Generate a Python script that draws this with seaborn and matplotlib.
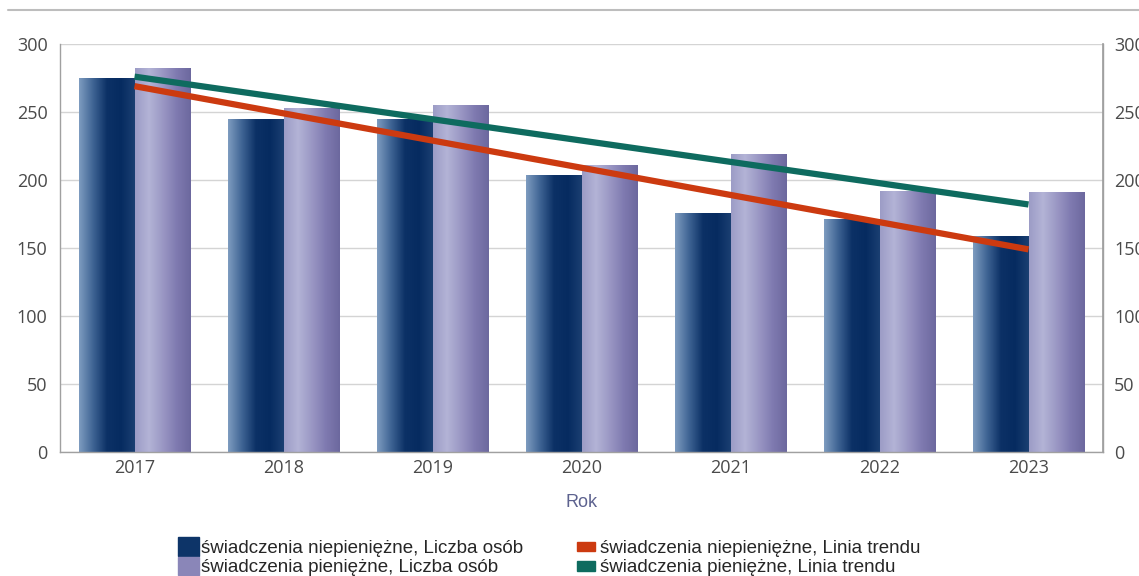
import matplotlib
matplotlib.use("Agg")
import matplotlib.pyplot as plt
import matplotlib.patches as mpatches
from matplotlib.colors import LinearSegmentedColormap
from matplotlib.legend_handler import HandlerPatch
import numpy as np
import pandas as pd
import seaborn as sns

years = ["2017", "2018", "2019", "2020", "2021", "2022", "2023"]
niepieniezne = [275, 245, 245, 204, 176, 171, 159]
pieniezne = [282, 253, 255, 211, 219, 192, 191]
trend_niepieniezne = [269, 149]   # 2017 -> 2023
trend_pieniezne = [276, 182]

lab_bar1 = "świadczenia niepieniężne, Liczba osób"
lab_bar2 = "świadczenia pieniężne, Liczba osób"
lab_tr1 = "świadczenia niepieniężne, Linia trendu"
lab_tr2 = "świadczenia pieniężne, Linia trendu"

df = pd.DataFrame({
    "Rok": years * 2,
    "Liczba": niepieniezne + pieniezne,
    "Seria": [lab_bar1] * len(years) + [lab_bar2] * len(years),
})

sns.set_theme(style="white")
plt.rcParams["font.family"] = ["Open Sans", "DejaVu Sans"]

DARK = "#0d3468"
LIGHT = "#8a86b8"
RED = "#cc3a10"
GREEN = "#0e6b5f"
GRID = "#d4d4d4"
SPINE = "#a0a0a0"
TICK = "#4a4a4a"

# cylinder-like shading, left -> right
cm_dark = LinearSegmentedColormap.from_list(
    "dark", ["#7e9cc0", "#3f6494", "#0c3166", "#062b60", "#1b3f72"])
cm_light = LinearSegmentedColormap.from_list(
    "light", ["#9c9cc6", "#b3b3d6", "#9a97c4", "#7f7ab0", "#6c689e"])

fig = plt.figure(figsize=(11.39, 5.76), dpi=100)
ax = fig.add_axes([0.0527, 0.2153, 0.9157, 0.7083])

sns.barplot(data=df, x="Rok", y="Liczba", hue="Seria",
            palette=[DARK, LIGHT], width=0.75, saturation=1,
            legend=False, ax=ax, zorder=2)

grad = np.linspace(0, 1, 256).reshape(1, -1)
n = len(years)
for i, p in enumerate(ax.patches[:2 * n]):
    cmap = cm_dark if i < n else cm_light
    x0, w, h = p.get_x(), p.get_width(), p.get_height()
    im = ax.imshow(grad, cmap=cmap, aspect="auto",
                   extent=[x0, x0 + w, 0, h], zorder=2.5)
    im.set_clip_path(p)
    p.set_edgecolor("none")

xs = [0, len(years) - 1]
ax.plot(xs, trend_niepieniezne, color=RED, lw=4.5, solid_capstyle="butt", zorder=4)
ax.plot(xs, trend_pieniezne, color=GREEN, lw=4.5, solid_capstyle="butt", zorder=4)

ax.set_xlim(-0.5, len(years) - 0.5)
ax.set_ylim(0, 300)
ax.set_yticks(range(0, 301, 50))
ax.yaxis.grid(True, color=GRID, lw=1)
ax.set_axisbelow(True)
ax.set_ylabel("")
ax.set_xlabel("Rok", fontsize=13, color="#5d628f", labelpad=12,
              family=["Liberation Sans", "DejaVu Sans"])
ax.tick_params(axis="x", labelsize=13, colors=TICK, length=0, pad=5)
ax.tick_params(axis="y", labelsize=13, colors=TICK, length=0, pad=9)
ax.spines["top"].set_visible(False)
for s in ["left", "right", "bottom"]:
    ax.spines[s].set_color(SPINE)
    ax.spines[s].set_linewidth(1)

ax2 = ax.twinx()
ax2.set_ylim(0, 300)
ax2.set_yticks(range(0, 301, 50))
ax2.tick_params(axis="y", labelsize=13, colors=TICK, length=0, pad=8)
for s in ["top", "left", "bottom"]:
    ax2.spines[s].set_visible(False)
ax2.spines["right"].set_color(SPINE)

# title rule (title text itself is cropped off the top of the picture)
fig.add_artist(plt.Line2D([0.007, 1.0], [0.982, 0.982], color="#bdbdbd", lw=1.5,
                          transform=fig.transFigure))


def bar_handle(legend, orig_handle, xdescent, ydescent, width, height, fontsize):
    return mpatches.Rectangle((-xdescent, -ydescent - 2), 15, height + 4)


def line_handle(legend, orig_handle, xdescent, ydescent, width, height, fontsize):
    return mpatches.Rectangle((-xdescent, -ydescent + height / 2 - 3.5), width, 7)


h1 = mpatches.Patch(color=DARK, label=lab_bar1)
h2 = mpatches.Patch(color=LIGHT, label=lab_bar2)
h3 = mpatches.Patch(color=RED, label=lab_tr1)
h4 = mpatches.Patch(color=GREEN, label=lab_tr2)
fig.legend(handles=[h1, h2, h3, h4], ncol=2, loc="upper left",
           bbox_to_anchor=(178 / 1139, 1 - 540 / 576), frameon=False,
           prop={"family": ["Liberation Sans", "DejaVu Sans"], "size": 13.5},
           handlelength=0.96, handleheight=0.7, handletextpad=0.25,
           columnspacing=2.9, labelspacing=0.12, borderpad=0, borderaxespad=0,
           handler_map={h1: HandlerPatch(patch_func=bar_handle),
                        h2: HandlerPatch(patch_func=bar_handle),
                        h3: HandlerPatch(patch_func=line_handle),
                        h4: HandlerPatch(patch_func=line_handle)})

fig.savefig("out.png", dpi=100)
